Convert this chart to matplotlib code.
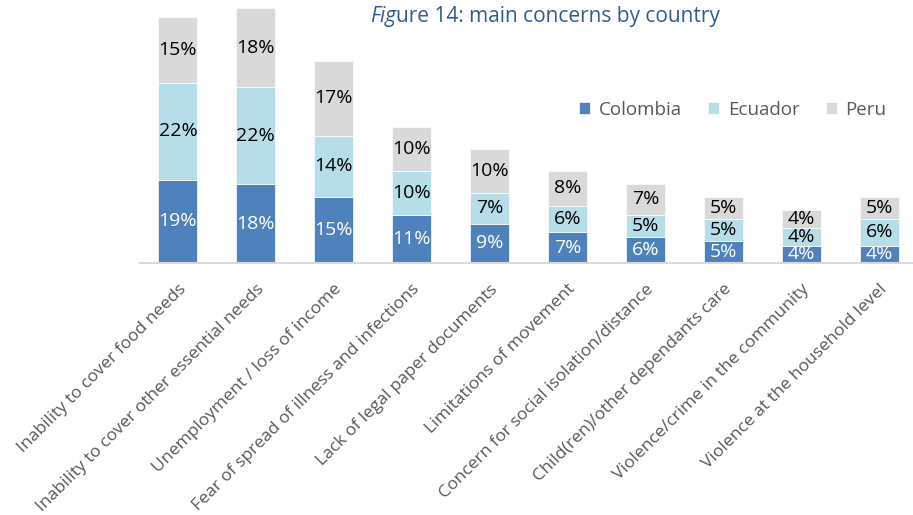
import numpy as np
import matplotlib.pyplot as plt

plt.rcParams['font.family'] = ['Open Sans', 'DejaVu Sans']

categories = ["Inability to cover food needs",
              "Inability to cover other essential needs",
              "Unemployment / loss of income",
              "Fear of spread of illness and infections",
              "Lack of legal paper documents",
              "Limitations of movement",
              "Concern for social isolation/distance",
              "Child(ren)/other dependants care",
              "Violence/crime in the community",
              "Violence at the household level"]
colombia = [19, 18, 15, 11, 9, 7, 6, 5, 4, 4]
ecuador = [22, 22, 14, 10, 7, 6, 5, 5, 4, 6]
peru = [15, 18, 17, 10, 10, 8, 7, 5, 4, 5]

series = [("Colombia", colombia, "#4F81BD", "white"),
          ("Ecuador", ecuador, "#B7DEE8", "black"),
          ("Peru", peru, "#D9D9D9", "black")]

fig = plt.figure(figsize=(9.13, 5.15), dpi=100)
ax = fig.add_axes([0.153, 0.489, 0.846, 0.511])

x = np.arange(len(categories))
bottom = np.zeros(len(categories))
for name, vals, color, tcolor in series:
    vals = np.array(vals, dtype=float)
    ax.bar(x, vals, 0.5, bottom=bottom, color=color, label=name,
           edgecolor='white', linewidth=0.5)
    for xi, b, v in zip(x, bottom, vals):
        ax.text(xi, b + v / 2, f"{int(v)}%", ha='center', va='center',
                fontsize=14, color=tcolor)
    bottom += vals

ax.set_xlim(-0.49, 9.42)
ax.set_ylim(0, 59.8)
ax.set_yticks([])
ax.set_xticks(x)
ax.set_xticklabels(categories, rotation=45, ha='right', rotation_mode='anchor',
                   fontsize=12.6, color='#595959')
ax.tick_params(axis='x', length=0, pad=13)
for s in ['top', 'right', 'left']:
    ax.spines[s].set_visible(False)
ax.spines['bottom'].set_color('#D9D9D9')
ax.spines['bottom'].set_linewidth(1.5)

leg = ax.legend(loc='center', bbox_to_anchor=(0.768, 0.583), ncol=3, frameon=False,
                fontsize=13.5, handlelength=0.6, handleheight=0.6, columnspacing=1.4,
                handletextpad=0.45)
for t in leg.get_texts():
    t.set_color('#595959')

# title with italic "Fig" prefix
title_color = '#2F5C8F'
t1 = fig.text(370 / 913, 1 - 22 / 515, "Fig", style='italic', fontsize=15,
              color=title_color, va='baseline', ha='left')
ax.annotate("ure 14: main concerns by country", xy=(1, 0), xycoords=t1,
            va='bottom', ha='left', fontsize=15, color=title_color,
            annotation_clip=False)

fig.savefig("out.png", dpi=100)
